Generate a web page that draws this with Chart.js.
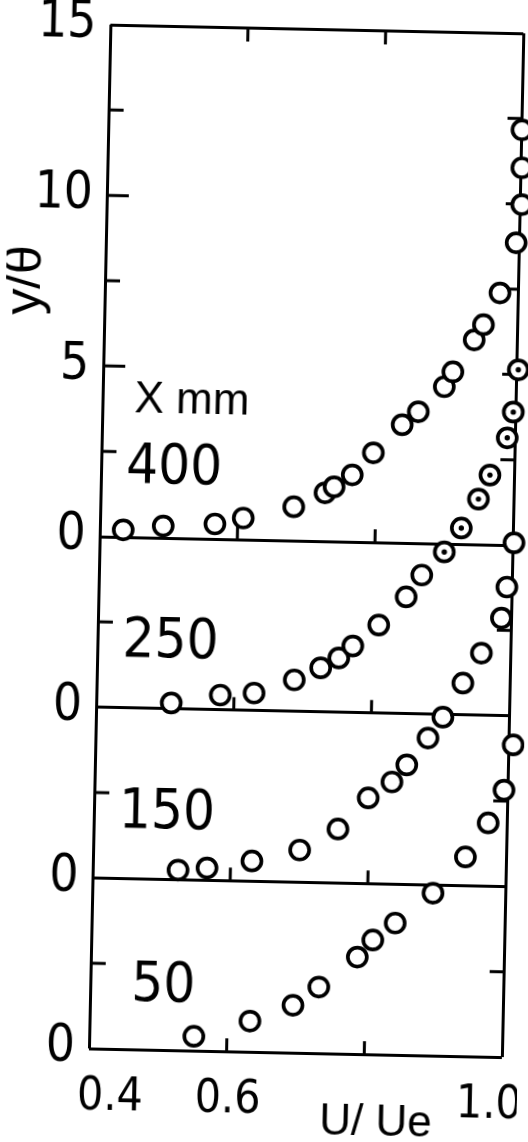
<!doctype html><html lang="en">
<head>
<meta charset="utf-8">
<title>y/θ - U/Ue profiles</title>
<script src="https://cdn.jsdelivr.net/npm/chart.js@4"></script>
<style>
html,body{margin:0;background:#fff;overflow:hidden}
#wrap{width:528px;height:1142px;transform:rotate(1.2deg);transform-origin:264px 571px}
</style>
</head>
<body>
<div id="wrap"><canvas id="c" width="528" height="1142"></canvas></div>
<script>
// stations (X mm) and how far each profile is shifted up
const stations=['400','250','150','50'];
const shift=[15,10,5,0];

const u400=[0.434,0.492,0.567,0.608,0.681,0.726,0.739,0.765,0.795,0.836,0.859,0.896,0.908,0.938,0.951,0.974,0.996,1.003,1.002,1.001];
const y400=[0.21,0.35,0.44,0.63,0.99,1.42,1.6,1.96,2.62,3.46,3.85,4.6,5.04,5.99,6.44,7.38,8.86,9.98,11.06,12.17];

const u250=[0.509,0.58,0.629,0.687,0.725,0.751,0.771,0.808,0.847,0.869];
const y250=[0.17,0.43,0.51,0.92,1.29,1.59,1.95,2.58,3.42,4.07];
const u250dot=[0.901,0.925,0.949,0.965,0.989,0.997,1.003,1.007];
const y250dot=[4.76,5.47,6.33,7.04,8.14,8.9,10.14,11.08];

const u150=[0.524,0.566,0.631,0.7,0.755,0.798,0.832,0.853,0.883,0.904,0.932,0.958,0.986,0.993,1.002,1.005,1.012];
const y150=[0.28,0.36,0.59,0.94,1.58,2.51,2.99,3.5,4.3,4.92,5.93,6.82,7.86,8.77,10.07,11.33,13.62];

const u50=[0.552,0.633,0.695,0.732,0.787,0.809,0.841,0.895,0.941,0.973,0.995,1.007,1.01];
const y50=[0.42,0.9,1.39,1.94,2.84,3.35,3.86,4.76,5.84,6.85,7.82,9.15,10.62];

const xTicks=[0.4,0.6,0.8,1.0];
const xTickText=['0.4','0.6','','1.0'];
const yTicks=[0,5,10,15,20,25,30];
const yTickText=['0','0','0','0','5','10','15'];

const NARROW="'Liberation Sans Narrow','DejaVu Sans Condensed',sans-serif";
const SANS="'Liberation Sans','DejaVu Sans',sans-serif";

const pts=(u,v,s)=>u.map((x,i)=>({x,y:v[i]+s}));
const ring=(data)=>({data,pointRadius:9.5,pointBorderWidth:3.7,pointBorderColor:'#000',pointBackgroundColor:'#fff',showLine:false,clip:false});

const frame={id:'frame',
  beforeDatasetsDraw(ch){
    const {ctx,chartArea:a,scales:{x,y}}=ch;
    ctx.save();ctx.strokeStyle='#000';ctx.lineWidth=3;ctx.beginPath();
    for(let v=2.5;v<30;v+=2.5){
      if(v%5===0&&v<=15)continue;
      const py=y.getPixelForValue(v),len=v%5===0?22:15;
      ctx.moveTo(a.left,py);ctx.lineTo(a.left+len,py);
      ctx.moveTo(a.right,py);ctx.lineTo(a.right-14,py);
    }
    for(const b of shift.concat([30]))for(const xv of [0.6,0.8]){
      const px=x.getPixelForValue(xv),py=y.getPixelForValue(b);
      ctx.moveTo(px,py);ctx.lineTo(px,py+(b===30?14:-13));
    }
    ctx.stroke();ctx.restore();
  },
  afterDatasetsDraw(ch){
    const {ctx,scales:{x,y}}=ch;
    ctx.save();ctx.fillStyle='#000';ctx.textAlign='center';ctx.textBaseline='middle';
    ctx.font='56px '+NARROW;
    const dy=[2.03,1.93,1.94,1.85];
    stations.forEach((s,i)=>ctx.fillText(s,x.getPixelForValue(0.506),y.getPixelForValue(shift[i]+dy[i])));
    ctx.font='44px '+SANS;
    ctx.fillText('X mm',x.getPixelForValue(0.53),y.getPixelForValue(19.03));
    // x tick labels, the end ones pulled in from the corners
    ctx.font='46px '+NARROW;
    const nudge=[22,2,0,-12];
    xTicks.forEach((v,i)=>ctx.fillText(xTickText[i],x.getPixelForValue(v)+nudge[i],y.bottom+49));
    ctx.font='44px '+SANS;
    ctx.fillText('U/ Ue',387,1121);
    ctx.translate(20,285);ctx.rotate(-Math.PI/2);
    ctx.font='52px '+SANS;
    ctx.fillText('y/θ',0,0);
    ctx.restore();
  }
};

const dots=pts(u250dot,y250dot,shift[1]);
new Chart(document.getElementById('c'),{
  type:'scatter',
  data:{datasets:[
    {data:dots,pointRadius:2.7,pointBorderWidth:0,pointBackgroundColor:'#000',showLine:false,clip:false,order:-1},
    ring(pts(u400,y400,shift[0])),
    ring(pts(u250,y250,shift[1])),
    ring(dots),
    ring(pts(u150,y150,shift[2])),
    ring(pts(u50,y50,shift[3]))
  ]},
  options:{
    responsive:false,animation:false,events:[],
    layout:{padding:{top:28,right:16,left:0,bottom:0}},
    plugins:{legend:{display:false},tooltip:{enabled:false}},
    scales:{
      x:{type:'linear',min:0.4,max:1.0,
        afterBuildTicks:s=>{s.ticks=xTicks.map(value=>({value}))},
        afterFit:s=>{s.height=90;s.paddingLeft=0;s.paddingRight=0},
        grid:{drawTicks:false,lineWidth:3,color:c=>(c.tick&&(c.tick.value===0.4||c.tick.value===1.0))?'#000':'rgba(0,0,0,0)'},
        border:{display:false},
        ticks:{display:false}
      },
      y:{type:'linear',min:0,max:30,
        afterBuildTicks:s=>{s.ticks=yTicks.map(value=>({value}))},
        afterFit:s=>{s.width=99;s.paddingTop=0;s.paddingBottom=0},
        grid:{drawTicks:false,lineWidth:3,color:c=>(c.tick&&(c.tick.value<=15||c.tick.value===30))?'#000':'rgba(0,0,0,0)'},
        border:{display:false},
        ticks:{padding:14,color:'#000',font:{family:NARROW,size:51,lineHeight:1},
          callback:(v,i)=>yTickText[i]}
      }
    }
  },
  plugins:[frame]
});
</script>
</body>
</html>
